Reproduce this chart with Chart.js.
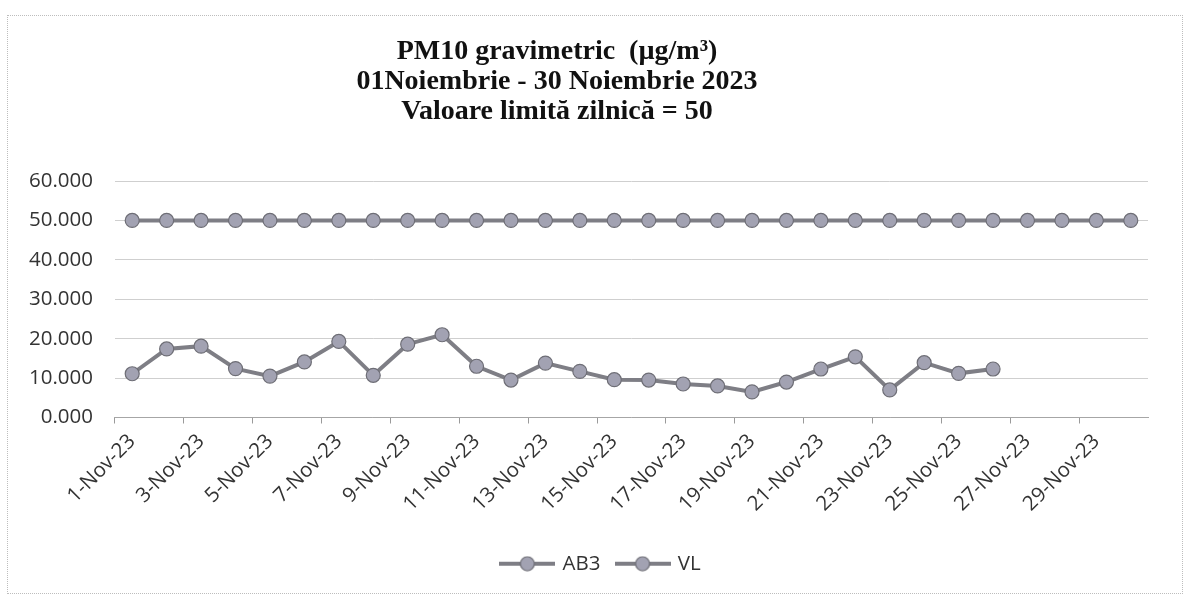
<!DOCTYPE html>
<html>
<head>
<meta charset="utf-8">
<script src="https://cdn.jsdelivr.net/npm/chart.js@4.4.0/dist/chart.umd.min.js"></script>
<style>
  html, body { margin: 0; padding: 0; background: #ffffff; }
  #wrap { position: relative; width: 1184px; height: 595px; overflow: hidden; }
  #frame { position: absolute; left: 7px; top: 15px; width: 1174px; height: 577px;
           border: 1px dotted #bdbdbd; pointer-events: none; }
  canvas { position: absolute; left: 0; top: 0; }
</style>
</head>
<body>
<div id="wrap">
  <canvas id="c" width="1184" height="595"></canvas>
  <div id="frame"></div>
</div>
<script>
// ---- data ----
const categories = [
  '1-Nov-23','2-Nov-23','3-Nov-23','4-Nov-23','5-Nov-23','6-Nov-23','7-Nov-23','8-Nov-23',
  '9-Nov-23','10-Nov-23','11-Nov-23','12-Nov-23','13-Nov-23','14-Nov-23','15-Nov-23',
  '16-Nov-23','17-Nov-23','18-Nov-23','19-Nov-23','20-Nov-23','21-Nov-23','22-Nov-23',
  '23-Nov-23','24-Nov-23','25-Nov-23','26-Nov-23','27-Nov-23','28-Nov-23','29-Nov-23','30-Nov-23'
];
const ab3Values = [11.1, 17.4, 18.1, 12.4, 10.5, 14.1, 19.3, 10.7, 18.6, 21.0, 13.0, 9.5, 13.8,
  11.7, 9.6, 9.5, 8.5, 8.0, 6.5, 9.0, 12.3, 15.4, 7.0, 13.9, 11.2, 12.3];
const vlValues = [50, 50, 50, 50, 50, 50, 50, 50, 50, 50, 50, 50, 50, 50, 50,
  50, 50, 50, 50, 50, 50, 50, 50, 50, 50, 50, 50, 50, 50, 50];
const seriesNames = ['AB3', 'VL'];
const titleLines = ['PM10 gravimetric  (\u00b5g/m\u00b3)', '01Noiembrie - 30 Noiembrie 2023', 'Valoare limit\u0103 zilnic\u0103 = 50'];
const yTicks = { min: 0, max: 60, step: 10 };

// ---- styles ----
const LINE_COLOR = '#7e7e85';
const POINT_FILL = '#a2a2b2';
const POINT_EDGE = '#6e6e76';
const TICK_FONT = { family: "'Open Sans', sans-serif", size: 20.5 };

function legendImage() {
  const cv = document.createElement('canvas');
  cv.width = 56; cv.height = 16;
  const g = cv.getContext('2d');
  g.strokeStyle = LINE_COLOR; g.lineWidth = 4;
  g.beginPath(); g.moveTo(0, 8); g.lineTo(56, 8); g.stroke();
  g.fillStyle = POINT_FILL; g.strokeStyle = POINT_EDGE; g.lineWidth = 1.2;
  g.beginPath(); g.arc(28, 8, 7, 0, Math.PI * 2); g.fill(); g.stroke();
  return cv;
}
const legendImg = legendImage();

const shiftPlugin = {
  id: 'shiftBlocks',
  afterLayout(chart) {
    const t = chart.titleBlock;
    if (t) { t.left = 0; t.right = 1114; t.width = 1114; }
    const l = chart.legend;
    if (l) { l.left += 24; l.right += 24; }
  }
};

function ds(label, data) {
  return {
    label, data,
    borderColor: LINE_COLOR, borderWidth: 4,
    backgroundColor: POINT_FILL,
    pointBackgroundColor: POINT_FILL, pointBorderColor: POINT_EDGE,
    pointBorderWidth: 1.2, pointRadius: 7, pointHoverRadius: 7,
    tension: 0, fill: false
  };
}

new Chart(document.getElementById('c'), {
  type: 'line',
  data: {
    labels: categories,
    datasets: [ds(seriesNames[0], ab3Values), ds(seriesNames[1], vlValues)]
  },
  plugins: [shiftPlugin],
  options: {
    responsive: false,
    animation: false,
    layout: { padding: { left: 7, right: 36, top: 0, bottom: 11 } },
    plugins: {
      tooltip: { enabled: false },
      title: {
        display: true,
        text: titleLines,
        color: '#111111',
        font: { family: "'Liberation Serif', 'Times New Roman', serif", size: 28, weight: 'bold', lineHeight: 30 / 28 },
        padding: { top: 37, bottom: 54 }
      },
      legend: {
        position: 'bottom',
        labels: {
          usePointStyle: true,
          pointStyleWidth: 50,
          padding: 17,
          color: '#333333',
          font: TICK_FONT,
          generateLabels(chart) {
            const items = Chart.defaults.plugins.legend.labels.generateLabels(chart);
            items.forEach(it => { it.pointStyle = legendImg; });
            return items;
          }
        }
      }
    },
    scales: {
      x: {
        offset: true,
        grid: {
          display: true, drawOnChartArea: false, drawTicks: true, tickLength: 6, offset: true,
          color: (c) => (c.index % 2 === 0 ? '#9a9a9a' : 'rgba(0,0,0,0)')
        },
        border: { display: true, color: '#a6a6a6', width: 1 },
        ticks: {
          autoSkip: false, minRotation: 45, maxRotation: 45, padding: 6,
          color: '#333333', font: TICK_FONT,
          callback: (v, i) => (i % 2 === 0 ? categories[i] : '')
        },
        afterFit(scale) { scale.height = 119; }
      },
      y: {
        min: yTicks.min, max: yTicks.max,
        grid: { color: '#cfcfcf', lineWidth: 1, drawTicks: false },
        border: { display: false },
        ticks: {
          stepSize: yTicks.step, padding: 22, color: '#333333', font: TICK_FONT,
          callback: (v) => Number(v).toFixed(3)
        }
      }
    }
  }
});
</script>
</body>
</html>
